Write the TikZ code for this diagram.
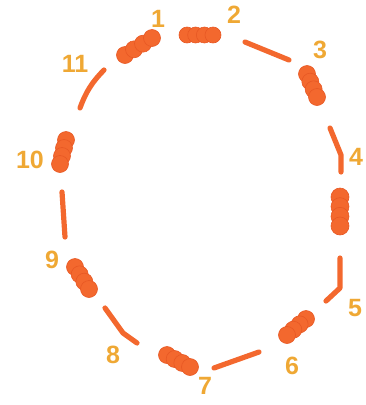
\documentclass[tikz,border=0pt]{standalone}
\usepackage{fontspec}
\setmainfont{Liberation Sans}
\usepackage{xcolor}
\usepackage{tikz}
\usetikzlibrary{calc}
\definecolor{beadorange}{RGB}{243,104,46}
\definecolor{beadedge}{RGB}{232,88,36}
\definecolor{labelgold}{RGB}{239,168,52}
\tikzset{
  bead/.style={fill=beadorange, draw=beadedge, line width=.6pt},
  link/.style={draw=beadorange, line width=5.2pt, line cap=round, line join=round},
  num/.style={text=labelgold, font=\fontsize{25}{25}\selectfont\bfseries, inner sep=0pt}
}
% four overlapping beads between two points
\newcommand{\beadrow}[5]{%
  \foreach \beadk in {0,1,2,3}{%
    \path[bead] ($(#1,#2)!\beadk/3!(#3,#4)$) circle[radius=#5];
  }%
}

\begin{document}
\begin{tikzpicture}[x=1pt, y=-1pt]
  \useasboundingbox (0,0) rectangle (365,405);

  % Links between the bead clusters.
  \draw[link] (245,42) -- (289,60);
  \draw[link] (330,128) -- (341,155) -- (341,172);
  \draw[link] (340,258) -- (340,288) -- (326,301);
  \draw[link] (259,352) -- (214,368);
  \draw[link] (105,308) -- (123,333) -- (137,343);
  \draw[link] (62,192) -- (65,237);
  \draw[link] (80,108) to[bend left=12] (104,70);

  % Bead clusters.
  \beadrow{125}{55}{152}{38}{8.5}
  \beadrow{187}{35}{213}{35}{8}
  \beadrow{307}{74}{317}{97}{8.5}
  \beadrow{340}{197}{340}{226}{9}
  \beadrow{306}{319}{287}{335}{8.5}
  \beadrow{167}{355}{190}{367}{8.5}
  \beadrow{75}{267}{89}{289}{8.5}
  \beadrow{66}{140}{60}{164}{8.5}

  % Numbers.
  \node[num] (n1) at (158,19) {1};
  \node[num] (n2) at (234,15) {2};
  \node[num] (n3) at (320,50) {3};
  \node[num] (n4) at (356,157) {4};
  \node[num] (n5) at (355,308) {5};
  \node[num] (n6) at (292,366) {6};
  \node[num] (n7) at (205,386) {7};
  \node[num] (n8) at (113,355) {8};
  \node[num] (n9) at (52,260) {9};
  \node[num] (n10) at (30,160) {10};
  \node[num] (n11) at (75,64) {11};
\end{tikzpicture}
\end{document}
